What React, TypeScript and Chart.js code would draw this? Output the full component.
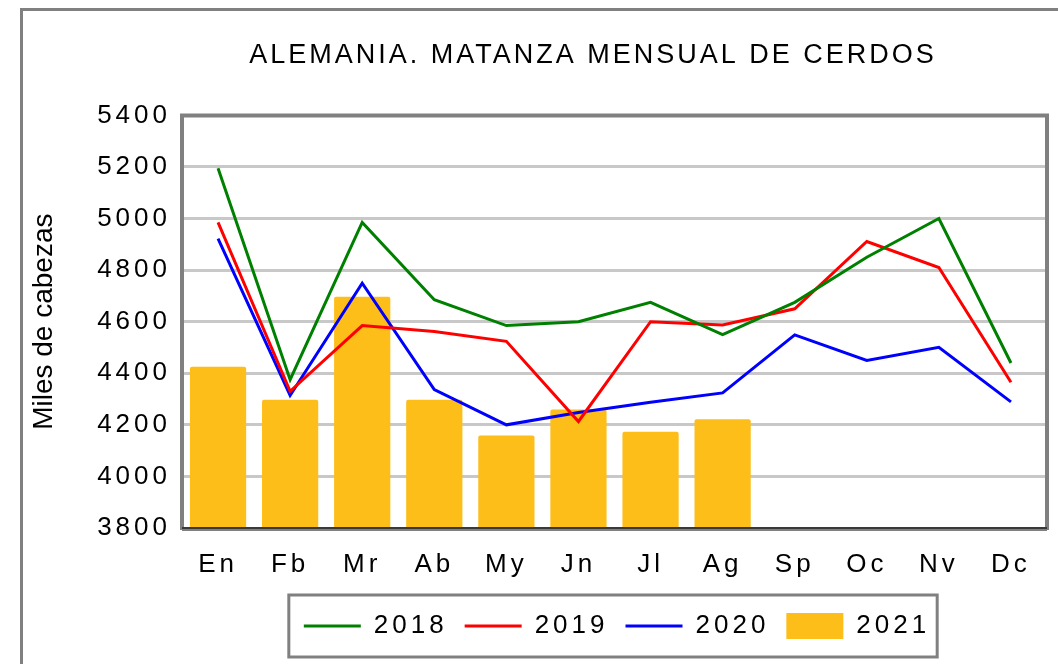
import React, { useEffect, useRef } from "react";
import { Chart, registerables } from "chart.js";

Chart.register(...registerables);

const TITLE = "ALEMANIA. MATANZA MENSUAL DE CERDOS";
const Y_TITLE = "Miles de cabezas";
const MONTHS = ["En", "Fb", "Mr", "Ab", "My", "Jn", "Jl", "Ag", "Sp", "Oc", "Nv", "Dc"];
const S2018 = [5195, 4375, 4985, 4685, 4585, 4600, 4675, 4550, 4675, 4850, 5000, 4440];
const S2019 = [4985, 4330, 4585, 4562, 4524, 4213, 4600, 4587, 4650, 4911, 4810, 4365];
const S2020 = [4922, 4314, 4749, 4337, 4200, 4248, 4288, 4324, 4549, 4450, 4501, 4289];
const S2021 = [4425, 4297, 4697, 4297, 4159, 4260, 4173, 4222, null, null, null, null];
const Y_MIN = 3800;
const Y_MAX = 5400;
const Y_STEP = 200;

const FONT = "'Liberation Sans', Arial, sans-serif";

const decoPlugin = {
  id: "deco",
  afterInit(chart: any) {
    const tb = chart.titleBlock;
    if (tb && !tb.__p) {
      const orig = tb.draw.bind(tb);
      tb.draw = (...args: any[]) => {
        const c = chart.ctx;
        c.save();
        c.letterSpacing = "3px";
        c.translate(-24, 0);
        orig(...args);
        c.restore();
      };
      tb.__p = true;
    }
  },
  beforeLayout(chart: any) {
    chart.ctx.letterSpacing = "4px";
  },
  beforeDraw(chart: any) {
    chart.ctx.letterSpacing = "4px";
    const ys = chart.scales.y;
    if (ys && !ys.__p) {
      const o = ys.drawTitle.bind(ys);
      ys.drawTitle = (...args: any[]) => {
        const c = chart.ctx;
        const prev = c.letterSpacing;
        c.letterSpacing = "0px";
        o(...args);
        c.letterSpacing = prev;
      };
      ys.__p = true;
    }
  },
  afterDatasetsDraw(chart: any) {
    const { left, right, top, bottom } = chart.chartArea;
    const c = chart.ctx;
    c.save();
    c.strokeStyle = "#808080";
    c.lineWidth = 4;
    c.beginPath();
    c.moveTo(left, bottom + 2);
    c.lineTo(left, top);
    c.lineTo(right, top);
    c.lineTo(right, bottom + 2);
    c.stroke();
    c.beginPath();
    c.moveTo(left, bottom + 1);
    c.lineTo(right, bottom + 1);
    c.stroke();
    c.strokeStyle = "#222";
    c.lineWidth = 1.5;
    c.beginPath();
    c.moveTo(left, bottom);
    c.lineTo(right, bottom);
    c.stroke();
    c.restore();
  },
  afterDraw(chart: any) {
    const lg = chart.legend;
    if (!lg || !lg.legendHitBoxes || !lg.legendHitBoxes.length) return;
    const hb = lg.legendHitBoxes;
    let minL = Infinity;
    let maxR = -Infinity;
    hb.forEach((h: any) => {
      minL = Math.min(minL, h.left);
      maxR = Math.max(maxR, h.left + h.width);
    });
    const cy = hb[0].top + hb[0].height / 2;
    const c = chart.ctx;
    c.save();
    c.strokeStyle = "#808080";
    c.lineWidth = 3;
    c.strokeRect(minL - 15, cy - 31, maxR - minL + 22, 62);
    c.restore();
  },
};

export default function App() {
  const ref = useRef<HTMLCanvasElement | null>(null);

  useEffect(() => {
    if (!ref.current) return;
    const chart = new Chart(ref.current, {
      type: "bar",
      data: {
        labels: MONTHS,
        datasets: [
          {
            type: "line",
            label: "2018",
            data: S2018,
            borderColor: "#008000",
            backgroundColor: "#008000",
            borderWidth: 3,
            pointRadius: 0,
            pointHoverRadius: 0,
            pointStyle: "line",
            tension: 0,
            fill: false,
          },
          {
            type: "line",
            label: "2019",
            data: S2019,
            borderColor: "#FF0000",
            backgroundColor: "#FF0000",
            borderWidth: 3,
            pointRadius: 0,
            pointHoverRadius: 0,
            pointStyle: "line",
            tension: 0,
            fill: false,
          },
          {
            type: "line",
            label: "2020",
            data: S2020,
            borderColor: "#0000FF",
            backgroundColor: "#0000FF",
            borderWidth: 3,
            pointRadius: 0,
            pointHoverRadius: 0,
            pointStyle: "line",
            tension: 0,
            fill: false,
          },
          {
            type: "bar",
            label: "2021",
            data: S2021 as any,
            backgroundColor: "#FEBE1A",
            borderWidth: 0,
            borderRadius: 2,
            pointStyle: "rect",
            barPercentage: 0.78,
            categoryPercentage: 1,
          },
        ],
      },
      options: {
        animation: false,
        responsive: false,
        devicePixelRatio: 1,
        layout: { padding: { left: 0, right: 0, top: 0, bottom: 15 } },
        plugins: {
          title: {
            display: true,
            text: TITLE,
            color: "#000",
            font: { family: FONT, size: 27, weight: "normal" },
            padding: { top: 39, bottom: 44 },
          },
          legend: {
            display: true,
            position: "bottom",
            labels: {
              usePointStyle: true,
              pointStyleWidth: 57,
              boxHeight: 26,
              padding: 17,
              color: "#000",
              font: { family: FONT, size: 26 },
            },
          },
          tooltip: { enabled: false },
        },
        scales: {
          x: {
            grid: { display: false, drawTicks: false },
            border: { display: false },
            ticks: {
              color: "#000",
              font: { family: FONT, size: 26 },
              padding: 21,
              maxRotation: 0,
              autoSkip: false,
            },
            afterFit: (s: any) => {
              s.height = 68;
            },
          },
          y: {
            min: Y_MIN,
            max: Y_MAX,
            grid: { color: "#C8C8C8", lineWidth: 3, drawTicks: false },
            border: { display: false },
            ticks: {
              stepSize: Y_STEP,
              color: "#000",
              font: { family: FONT, size: 26 },
              padding: 11,
              callback: (v: any) => String(v),
            },
            title: {
              display: true,
              text: Y_TITLE,
              color: "#000",
              font: { family: FONT, size: 28 },
              padding: { top: 27, bottom: 0 },
            },
            afterFit: (s: any) => {
              s.width = 182;
            },
          },
          y2: {
            position: "right",
            display: true,
            grid: { display: false, drawTicks: false },
            border: { display: false },
            ticks: { display: false },
            afterFit: (s: any) => {
              s.width = 187;
            },
          },
        },
      },
      plugins: [decoPlugin],
    } as any);
    return () => chart.destroy();
  }, []);

  return (
    <>
      <div
        style={{
          position: "fixed",
          left: 20,
          top: 8,
          width: 2000,
          height: 2000,
          borderLeft: "3px solid #808080",
          borderTop: "3px solid #808080",
          background: "#fff",
        }}
      />
      <div
        style={{
          position: "fixed",
          left: 0,
          top: 0,
          width: 1058,
          height: 664,
          overflow: "hidden",
        }}
      >
        <canvas
          ref={ref}
          width={1234}
          height={664}
          style={{ display: "block", width: 1234, height: 664 }}
        />
      </div>
    </>
  );
}
